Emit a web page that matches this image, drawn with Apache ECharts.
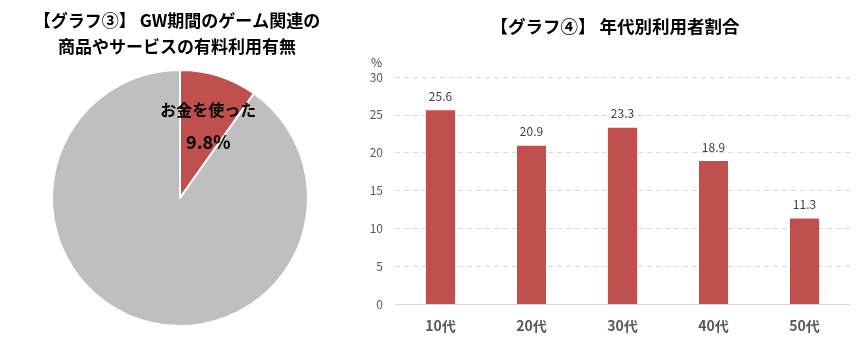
<!DOCTYPE html>
<html><head><meta charset="utf-8">
<script src="https://cdn.jsdelivr.net/npm/echarts@6/dist/echarts.min.js"></script>
<style>html,body{margin:0;padding:0;background:#fff}#c{width:865px;height:348px}</style>
</head><body><div id="c"></div>
<script>
const pieNames = ['お金を使った', '使っていない'];
const pieValues = [9.8, 90.2];
const categories = ['10代', '20代', '30代', '40代', '50代'];
const barValues = [25.6, 20.9, 23.3, 18.9, 11.3];
const yTicks = [0, 5, 10, 15, 20, 25, 30];

const FONT = '"Noto Sans CJK JP", "Noto Sans", sans-serif';
const chart = echarts.init(document.getElementById('c'), null, {renderer: 'canvas'});
chart.setOption({
  animation: false,
  textStyle: {fontFamily: FONT},
  title: [
    {text: '【グラフ③】 GW期間のゲーム関連の\n商品やサービスの有料利用有無', left: 172, top: 3, textAlign: 'center',
     textStyle: {fontFamily: FONT, fontSize: 17, fontWeight: 'bold', color: '#000', lineHeight: 26}},
    {text: '【グラフ④】 年代別利用者割合', left: 610, top: 13, textAlign: 'center',
     textStyle: {fontFamily: FONT, fontSize: 17.5, fontWeight: 'bold', color: '#000'}}
  ],
  grid: {left: 395, right: 15, top: 77, bottom: 44},
  xAxis: {
    type: 'category', data: categories,
    axisLine: {lineStyle: {color: '#d9d9d9'}}, axisTick: {show: false},
    axisLabel: {color: '#595959', fontSize: 14, fontWeight: 'bold', margin: 15, fontFamily: FONT}
  },
  yAxis: {
    type: 'value', min: yTicks[0], max: yTicks[yTicks.length - 1], interval: 5,
    name: '%', nameLocation: 'end', nameGap: 9,
    nameTextStyle: {color: '#404040', fontSize: 12, align: 'right', padding: [0, 13, 0, 0]},
    axisLine: {show: false}, axisTick: {show: false},
    axisLabel: {color: '#595959', fontSize: 12, margin: 12},
    splitLine: {lineStyle: {color: '#d9d9d9', type: [5, 4]}}
  },
  series: [
    {
      type: 'pie', center: [180, 198], radius: 128, startAngle: 90, clockwise: true,
      data: pieNames.map((n, i) => ({name: n, value: pieValues[i],
        itemStyle: {color: i === 0 ? '#c0504d' : '#bfbfbf'},
        label: {show: i === 0}})),
      itemStyle: {borderColor: '#fff', borderWidth: 2},
      labelLine: {show: false},
      label: {
        position: 'inside',
        formatter: p => '{a|' + p.name + '}\n{b|' + p.value + '%}',
        offset: [8, -8],
        rich: {
          a: {fontSize: 16, fontWeight: 'bold', color: '#000', lineHeight: 32, fontFamily: FONT},
          b: {fontSize: 18, fontWeight: 'bold', color: '#000', lineHeight: 32, fontFamily: FONT}
        }
      },
      emphasis: {disabled: true}
    },
    {
      type: 'bar', data: barValues, barWidth: '32%',
      itemStyle: {color: '#c0504d'},
      label: {show: true, position: 'top', distance: 8, color: '#404040', fontSize: 12,
        formatter: p => p.value.toFixed(1)}
    }
  ]
});
</script></body></html>
